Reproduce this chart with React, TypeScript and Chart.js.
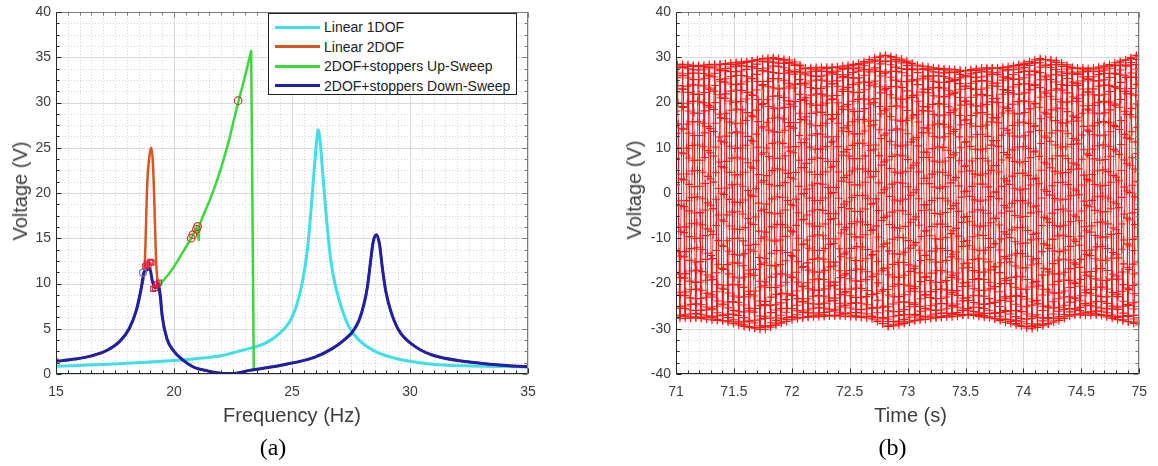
import React, { useEffect, useRef } from "react";
import { Chart, registerables } from "chart.js";

Chart.register(...registerables);

// ---------------- Panel (a): frequency response ----------------
const SERIES_LABELS = [
  "Linear 1DOF",
  "Linear 2DOF",
  "2DOF+stoppers Up-Sweep",
  "2DOF+stoppers Down-Sweep",
];
const SERIES_COLORS = ["#3ee0e6", "#d9561e", "#3ad83a", "#1f1fa8"];

const FREQ_1DOF = [15, 16, 17, 18, 19, 20, 21, 22, 22.6, 23.2, 23.9, 24.46, 24.89, 25.17, 25.45, 25.66, 25.8, 25.94, 26.04, 26.11, 26.19, 26.29, 26.46, 26.65, 26.86, 27.14, 27.42, 27.84, 28.55, 29.53, 30.94, 32.35, 33.76, 35];
const VOLT_1DOF = [0.85, 0.95, 1.05, 1.18, 1.32, 1.5, 1.72, 2.02, 2.42, 2.83, 3.44, 4.46, 5.73, 7.37, 10.27, 13.9, 17.9, 22.6, 25.6, 27.0, 25.8, 22.6, 17.2, 12.45, 9.55, 7.0, 5.19, 3.74, 2.47, 1.63, 1.09, 0.9, 0.82, 0.78];

const FREQ_2DOF = [15, 15.15, 15.8, 16.5, 17.15, 17.7, 18.1, 18.4, 18.62, 18.76, 18.87, 18.97, 19.04, 19.1, 19.14, 19.25, 19.34, 19.42, 19.5, 19.7, 20.0, 20.4, 20.8, 21.4, 22.1, 22.5, 23.2, 24.6, 26.0, 26.72, 27.28, 27.56, 27.84, 28.05, 28.19, 28.33, 28.44, 28.58, 28.71, 28.83, 28.97, 29.18, 29.53, 30.24, 30.94, 32.35, 33.76, 35];
const VOLT_2DOF = [1.7, 1.45, 1.65, 2.0, 2.6, 3.6, 5.0, 7.0, 9.6, 12.1, 21.2, 24.3, 25.0, 23.6, 21.2, 12.1, 9.5, 8.6, 6.4, 3.9, 2.5, 1.5, 0.8, 0.35, 0.06, 0.05, 0.4, 1.0, 1.9, 2.83, 3.92, 4.64, 5.92, 7.73, 9.55, 12.45, 14.6, 15.4, 14.3, 11.7, 9.2, 7.0, 4.8, 3.0, 2.1, 1.38, 1.0, 0.8];

const FREQ_UP = [19.39, 19.6, 19.8, 19.96, 20.2, 20.38, 20.55, 20.73, 20.85, 20.97, 21.05, 21.07, 21.3, 21.5, 21.69, 21.85, 22.0, 22.18, 22.35, 22.52, 22.7, 22.85, 23.0, 23.14, 23.27, 23.38];
const VOLT_UP = [9.8, 10.5, 11.1, 11.7, 12.7, 13.5, 14.2, 15.0, 15.6, 16.2, 14.8, 16.4, 17.9, 19.1, 20.4, 21.6, 22.8, 24.4, 26.0, 27.9, 29.8, 31.3, 32.8, 34.3, 35.7, 0.6];

const FREQ_DOWN = [15, 15.8, 16.5, 17.15, 17.7, 18.1, 18.4, 18.62, 18.72, 18.85, 18.97, 19.08, 19.2, 19.3, 19.36, 19.42, 19.5, 19.7, 20.0, 20.4, 20.8, 21.4, 22.1, 22.5, 23.2, 24.6, 26.0, 26.72, 27.28, 27.56, 27.84, 28.05, 28.19, 28.33, 28.44, 28.58, 28.71, 28.83, 28.97, 29.18, 29.53, 30.24, 30.94, 32.35, 33.76, 35];
const VOLT_DOWN = [1.4, 1.65, 2.0, 2.6, 3.6, 5.0, 7.0, 9.6, 11.2, 11.5, 11.7, 10.3, 9.5, 9.9, 9.7, 8.6, 6.4, 3.9, 2.5, 1.5, 0.8, 0.35, 0.06, 0.05, 0.4, 1.0, 1.9, 2.83, 3.92, 4.64, 5.92, 7.73, 9.55, 12.45, 14.6, 15.4, 14.3, 11.7, 9.2, 7.0, 4.8, 3.0, 2.1, 1.38, 1.0, 0.8];

// jump markers
const CIRCLE_UP_F = [20.73, 20.8, 20.95, 21.0, 22.72];
const CIRCLE_UP_V = [15.0, 15.4, 16.0, 16.3, 30.2];
const CIRCLE_DOWN_F = [18.69];
const CIRCLE_DOWN_V = [11.2];
const SQUARE_F = [18.78, 18.85, 18.92, 19.0, 19.05, 19.12, 19.2, 19.27, 19.36];
const SQUARE_V = [11.9, 12.2, 12.0, 12.4, 12.3, 9.4, 9.5, 9.9, 10.1];

// ---------------- Panel (b): time response ----------------
const TIME_START = 71;
const TIME_END = 75;
const SIGNAL_FREQ_HZ = 21.7;
const SAMPLE_RATE_HZ = 651;
const PHASE_WOBBLE_RAD = 0.12;
const PHASE_WOBBLE_PERIOD_S = 0.7;
const UPPER_T = [71.0, 71.2, 71.44, 71.6, 71.72, 71.84, 72.0, 72.12, 72.27, 72.43, 72.58, 72.74, 72.8, 72.95, 73.1, 73.23, 73.48, 73.66, 73.85, 74.0, 74.15, 74.28, 74.43, 74.58, 74.74, 74.89, 75.0];
const UPPER_V = [28.5, 28.2, 28.7, 29.1, 29.6, 30.0, 29.3, 27.7, 27.8, 28.0, 28.7, 30.1, 30.6, 29.6, 28.2, 27.7, 27.1, 27.7, 27.8, 28.7, 29.8, 29.3, 27.8, 27.5, 28.4, 29.6, 30.7];
const LOWER_T = [71.0, 71.2, 71.44, 71.6, 71.75, 71.87, 72.0, 72.18, 72.43, 72.68, 72.83, 72.92, 73.1, 73.35, 73.54, 73.72, 73.91, 74.06, 74.2, 74.43, 74.65, 74.83, 75.0];
const LOWER_V = [-27.7, -27.7, -28.5, -29.6, -30.3, -29.2, -28.0, -27.4, -27.2, -27.7, -29.6, -29.2, -28.1, -27.4, -27.0, -27.7, -29.0, -30.1, -29.2, -27.0, -27.0, -28.1, -29.2];

// ---------------- helpers ----------------
const FONT = '"Liberation Sans", Arial, Helvetica, sans-serif';
const TICK_COLOR = "#3c3c3c";
Chart.defaults.font.family = FONT;

const pts = (xs: number[], ys: number[]) => xs.map((x, i) => ({ x, y: ys[i] }));

function envAt(ts: number[], vs: number[], t: number) {
  if (t <= ts[0]) return vs[0];
  for (let i = 1; i < ts.length; i++) {
    if (t <= ts[i]) {
      const r = (t - ts[i - 1]) / (ts[i] - ts[i - 1]);
      return vs[i - 1] + r * (vs[i] - vs[i - 1]);
    }
  }
  return vs[vs.length - 1];
}

function buildSignal() {
  const out: { x: number; y: number }[] = [];
  const n = Math.floor((TIME_END - TIME_START) * SAMPLE_RATE_HZ);
  for (let i = 0; i <= n; i++) {
    const t = TIME_START + i / SAMPLE_RATE_HZ;
    const hi = envAt(UPPER_T, UPPER_V, t);
    const lo = envAt(LOWER_T, LOWER_V, t);
    const mid = (hi + lo) / 2;
    const amp = (hi - lo) / 2;
    const dt = t - TIME_START;
    const phase = 2 * Math.PI * SIGNAL_FREQ_HZ * dt + 0.05 +
      PHASE_WOBBLE_RAD * Math.sin((2 * Math.PI * dt) / PHASE_WOBBLE_PERIOD_S);
    out.push({ x: t, y: mid + amp * Math.sin(phase) });
  }
  return out;
}

function steps(min: number, max: number, step: number) {
  const n = Math.round((max - min) / step);
  const r: number[] = [];
  for (let i = 0; i <= n; i++) r.push(min + i * step);
  return r;
}

const matlabAxes = {
  id: "matlabAxes",
  beforeDatasetsDraw(chart: any, _a: any, opts: any) {
    const { ctx, chartArea: a, scales } = chart;
    const x = scales.x, y = scales.y;
    ctx.save();
    ctx.lineWidth = 1;
    const xMaj = steps(x.min, x.max, opts.xMajor);
    const yMaj = steps(y.min, y.max, opts.yMajor);
    const isMaj = (v: number, m: number[]) => m.some((q) => Math.abs(q - v) < 1e-6);
    ctx.strokeStyle = "#d4d4d4";
    ctx.setLineDash([1, 2]);
    for (const v of steps(x.min, x.max, opts.xMinor)) {
      if (isMaj(v, xMaj)) continue;
      const p = Math.round(x.getPixelForValue(v)) + 0.5;
      ctx.beginPath(); ctx.moveTo(p, a.top); ctx.lineTo(p, a.bottom); ctx.stroke();
    }
    for (const v of steps(y.min, y.max, opts.yMinor)) {
      if (isMaj(v, yMaj)) continue;
      const p = Math.round(y.getPixelForValue(v)) + 0.5;
      ctx.beginPath(); ctx.moveTo(a.left, p); ctx.lineTo(a.right, p); ctx.stroke();
    }
    ctx.setLineDash([]);
    ctx.strokeStyle = "#d9d9d9";
    for (const v of xMaj) {
      const p = Math.round(x.getPixelForValue(v)) + 0.5;
      ctx.beginPath(); ctx.moveTo(p, a.top); ctx.lineTo(p, a.bottom); ctx.stroke();
    }
    for (const v of yMaj) {
      const p = Math.round(y.getPixelForValue(v)) + 0.5;
      ctx.beginPath(); ctx.moveTo(a.left, p); ctx.lineTo(a.right, p); ctx.stroke();
    }
    ctx.restore();
  },
  afterDatasetsDraw(chart: any, _a: any, opts: any) {
    const { ctx, chartArea: a, scales } = chart;
    const x = scales.x, y = scales.y;
    const L = Math.round(a.left) + 0.5, R = Math.round(a.right) - 0.5;
    const T = Math.round(a.top) + 0.5, B = Math.round(a.bottom) - 0.5;
    ctx.save();
    ctx.lineWidth = 1;
    const xMaj = steps(x.min, x.max, opts.xMajor);
    const yMaj = steps(y.min, y.max, opts.yMajor);
    const isMaj = (v: number, m: number[]) => m.some((q) => Math.abs(q - v) < 1e-6);
    const drawTicks = (color: string, side: string) => {
      ctx.strokeStyle = color;
      if (side === "bottom" || side === "top") {
        for (const v of steps(x.min, x.max, opts.xMinor)) {
          const len = isMaj(v, xMaj) ? 5 : 3;
          const p = Math.round(x.getPixelForValue(v)) + 0.5;
          ctx.beginPath();
          if (side === "bottom") { ctx.moveTo(p, B); ctx.lineTo(p, B - len); }
          else { ctx.moveTo(p, T); ctx.lineTo(p, T + len); }
          ctx.stroke();
        }
      } else {
        for (const v of steps(y.min, y.max, opts.yMinor)) {
          const len = isMaj(v, yMaj) ? 5 : 3;
          const p = Math.round(y.getPixelForValue(v)) + 0.5;
          ctx.beginPath();
          if (side === "left") { ctx.moveTo(L, p); ctx.lineTo(L + len, p); }
          else { ctx.moveTo(R, p); ctx.lineTo(R - len, p); }
          ctx.stroke();
        }
      }
    };
    ctx.strokeStyle = "#7a7a7a";
    ctx.beginPath(); ctx.moveTo(L, T); ctx.lineTo(R, T); ctx.lineTo(R, B); ctx.stroke();
    drawTicks("#7a7a7a", "top");
    drawTicks("#7a7a7a", "right");
    ctx.strokeStyle = "#262626";
    ctx.beginPath(); ctx.moveTo(L, T); ctx.lineTo(L, B); ctx.lineTo(R, B); ctx.stroke();
    drawTicks("#262626", "bottom");
    drawTicks("#262626", "left");
    ctx.restore();
  },
};

const tickFont = { size: 14, family: FONT, lineHeight: 1 };
const fmt = (v: any) => String(+Number(v).toFixed(2));

function axes(xmin: number, xmax: number, xstep: number, ymin: number, ymax: number, ystep: number, yWidth: number) {
  return {
    x: {
      type: "linear", min: xmin, max: xmax,
      afterFit: (s: any) => { s.height = 92; },
      ticks: { stepSize: xstep, padding: 11, color: TICK_COLOR, font: tickFont, maxRotation: 0, autoSkip: false, callback: fmt },
      grid: { display: false, drawTicks: false },
      border: { display: false },
    },
    y: {
      type: "linear", min: ymin, max: ymax,
      afterFit: (s: any) => { s.width = yWidth; },
      ticks: { stepSize: ystep, padding: 5, color: TICK_COLOR, font: tickFont, autoSkip: false, callback: fmt },
      grid: { display: false, drawTicks: false },
      border: { display: false },
    },
  };
}

function configA(): any {
  const line = (label: string, data: any[], color: string, width: number, order: number, mono: boolean) => ({
    label, data, showLine: true, borderColor: color, backgroundColor: color, borderWidth: width,
    pointRadius: 0, order, tension: 0,
    cubicInterpolationMode: mono ? "monotone" : "default",
    borderJoinStyle: "round", borderCapStyle: "round",
  });
  const marks = (data: any[], style: string, color: string, r: number, order: number) => ({
    label: "", data, showLine: false, pointStyle: style, pointRadius: r,
    pointBorderColor: color, pointBackgroundColor: "rgba(0,0,0,0)", pointBorderWidth: 1.2, order,
  });
  return {
    type: "scatter",
    data: {
      datasets: [
        line(SERIES_LABELS[0], pts(FREQ_1DOF, VOLT_1DOF), SERIES_COLORS[0], 3, 5, true),
        line(SERIES_LABELS[1], pts(FREQ_2DOF, VOLT_2DOF), SERIES_COLORS[1], 2.5, 4, true),
        line(SERIES_LABELS[2], pts(FREQ_UP, VOLT_UP), SERIES_COLORS[2], 2.5, 3, false),
        line(SERIES_LABELS[3], pts(FREQ_DOWN, VOLT_DOWN), SERIES_COLORS[3], 3, 2, true),
        marks(pts(SQUARE_F, SQUARE_V), "rect", "#e0203a", 3.5, 1),
        marks(pts(CIRCLE_UP_F, CIRCLE_UP_V), "circle", "#c8432a", 3.8, 0),
        marks(pts(CIRCLE_DOWN_F, CIRCLE_DOWN_V), "circle", "#7b7bb5", 3.5, 0),
      ],
    },
    options: {
      responsive: false, animation: false, events: [],
      layout: { padding: { left: 0, top: 7, right: 32, bottom: 0 } },
      plugins: {
        legend: { display: false }, tooltip: { enabled: false },
        matlabAxes: { xMajor: 5, xMinor: 0.5, yMajor: 5, yMinor: 1.25 },
      },
      scales: axes(15, 35, 5, 0, 40, 5, 56),
    },
    plugins: [matlabAxes],
  };
}

function configB(): any {
  return {
    type: "scatter",
    data: {
      datasets: [
        {
          label: "Voltage", data: buildSignal(), showLine: true,
          borderColor: "#f01010", borderWidth: 0.85, tension: 0,
          pointStyle: "cross", pointRadius: 4, pointBorderColor: "#ff1414", pointBorderWidth: 1.1,
          pointBackgroundColor: "#ff1414",
        },
      ],
    },
    options: {
      responsive: false, animation: false, events: [],
      layout: { padding: { left: 0, top: 7, right: 12, bottom: 0 } },
      plugins: {
        legend: { display: false }, tooltip: { enabled: false },
        matlabAxes: { xMajor: 0.5, xMinor: 0.1, yMajor: 10, yMinor: 2.5 },
      },
      scales: axes(TIME_START, TIME_END, 0.5, -40, 40, 10, 86),
    },
    plugins: [matlabAxes],
  };
}

function ChartCanvas({ make, left, width }: { make: () => any; left: number; width: number }) {
  const ref = useRef<HTMLCanvasElement>(null);
  useEffect(() => {
    const chart = new Chart(ref.current as HTMLCanvasElement, make());
    return () => chart.destroy();
  }, []);
  return (
    <canvas ref={ref} width={width} height={466}
      style={{ position: "absolute", left, top: 0, width, height: 466 }} />
  );
}

function Label({ text, cx, cy, size, rotate, serif, color }: any) {
  return (
    <div style={{
      position: "absolute", left: cx, top: cy, whiteSpace: "nowrap", lineHeight: 1,
      transform: `translate(-50%, -50%)${rotate ? " rotate(-90deg)" : ""}`,
      fontFamily: serif ? '"Liberation Serif", "Times New Roman", serif' : FONT,
      fontSize: size, color: color || "#3c3c3c",
    }}>{text}</div>
  );
}

function Legend() {
  return (
    <div style={{
      position: "absolute", left: 268, top: 13, width: 249, height: 82, boxSizing: "border-box",
      border: "1px solid #1e1e1e", background: "#fff",
    }}>
      {SERIES_LABELS.map((lab, i) => (
        <div key={lab} style={{ position: "absolute", left: 0, top: 13 + 19.5 * i, width: "100%" }}>
          <div style={{ position: "absolute", left: 6, top: -1.5, width: 45, height: 3, background: SERIES_COLORS[i] }} />
          <div style={{
            position: "absolute", left: 55, top: 0, transform: "translateY(-50%)", whiteSpace: "nowrap",
            fontFamily: FONT, fontSize: 14, lineHeight: 1, color: "#222",
          }}>{lab}</div>
        </div>
      ))}
    </div>
  );
}

export default function App() {
  return (
    <div style={{ position: "fixed", left: 0, top: 0, width: 1158, height: 466, background: "#fff", overflow: "hidden" }}>
      <ChartCanvas make={configA} left={0} width={560} />
      <ChartCanvas make={configB} left={590} width={568} />
      <Legend />
      <Label text="Voltage (V)" cx={20} cy={190.5} size={20} rotate />
      <Label text="Frequency (Hz)" cx={292} cy={415} size={20} />
      <Label text="(a)" cx={273} cy={447} size={24} serif color="#000" />
      <Label text="Voltage (V)" cx={633.5} cy={190} size={20} rotate />
      <Label text="Time (s)" cx={910.6} cy={415} size={20} />
      <Label text="(b)" cx={892.5} cy={447} size={24} serif color="#000" />
    </div>
  );
}
